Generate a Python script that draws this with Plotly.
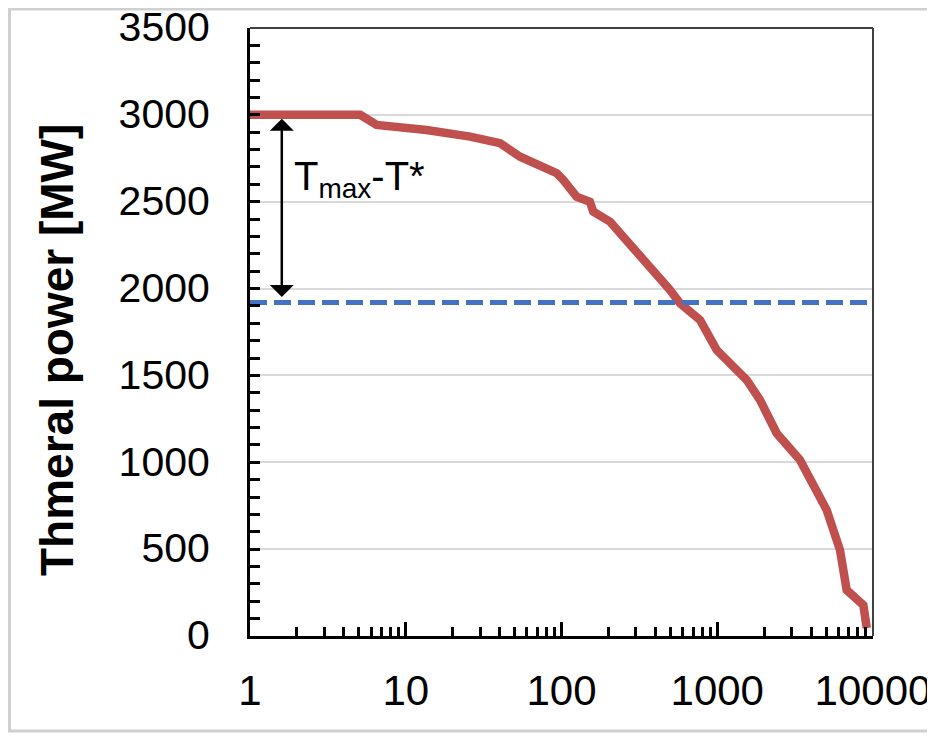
import math
import plotly.graph_objects as go

# ---- data ----
hours = [1, 5.1, 6.5, 13.6, 25.9, 40.3, 54.2, 72.8, 93.2, 102.8, 125, 152, 160,
         205, 249, 319, 388, 497, 577, 738, 775, 991, 1268, 1545, 1880, 2408,
         3397, 4137, 5046, 6138, 6777, 8669, 8892, 9120]
power = [3000, 3000, 2942, 2913, 2875, 2837, 2759, 2712, 2664, 2625, 2529, 2500, 2443,
         2385, 2299, 2203, 2107, 1992, 1915, 1838, 1819, 1647, 1560, 1474, 1359, 1167,
         1013, 879, 725, 495, 265, 178, 63, 46]

threshold = 1920          # T* (dashed line)
t_max = 3000              # Tmax
arrow_hour = 1.6          # x position of the double arrow
x_ticks = [1, 10, 100, 1000, 10000]
x_tick_text = ["1", "10", "100", "1000", "10000"]
y_title = "Thmeral power [MW]"
note_text = "T<sub>max</sub>-T*"

FONT = "Arial, Liberation Sans, sans-serif"

minor_x = [m * d for d in [1, 10, 100, 1000] for m in range(2, 10)]

# page body has an 8px margin: the figure is placed at (8, 8)
PAGE_OFF = 8
PLOT_L, PLOT_R, PLOT_T, PLOT_B = 250, 873, 28, 636   # plot area in page pixels
W, H = 935 - PAGE_OFF, 736 - PAGE_OFF
PW, PH = PLOT_R - PLOT_L, PLOT_B - PLOT_T


def px(page_x):
    return (page_x - PLOT_L) / PW


def py(page_y):
    return (PLOT_B - page_y) / PH


fig = go.Figure()
fig.add_trace(go.Scatter(x=hours, y=power, mode="lines",
                         line=dict(color="#C0504D", width=8.5), hoverinfo="skip"))
fig.add_trace(go.Scatter(x=[x_ticks[0], x_ticks[-1]], y=[threshold, threshold], mode="lines",
                         line=dict(color="#4472C4", width=5, dash="17px,7px"), hoverinfo="skip"))

fig.update_layout(
    width=W, height=H,
    margin=dict(l=PLOT_L - PAGE_OFF, r=935 - PLOT_R, t=PLOT_T - PAGE_OFF, b=736 - PLOT_B,
                autoexpand=False),
    plot_bgcolor="white", paper_bgcolor="white",
    showlegend=False,
    font=dict(family=FONT, color="black"),
)

fig.update_xaxes(
    type="log", range=[0, 4], automargin=False,
    tickmode="array", tickvals=x_ticks, ticktext=x_tick_text,
    ticks="inside", ticklen=14, tickwidth=2.5, tickcolor="black",
    showline=True, linecolor="black", linewidth=3,
    showgrid=False, zeroline=False,
    tickfont=dict(size=42, family=FONT, color="black"),
    ticklabelstandoff=16, ticklabeloverflow="allow",
    minor=dict(tickmode="array", tickvals=minor_x, ticks="inside", ticklen=9,
               tickwidth=2.5, tickcolor="black", showgrid=False),
)
fig.update_yaxes(
    range=[0, 3500], tick0=0, dtick=500, automargin=False,
    ticks="inside", ticklen=10, tickwidth=2.5, tickcolor="black",
    showline=True, linecolor="black", linewidth=3,
    showgrid=True, gridcolor="#D9D9D9", gridwidth=2, zeroline=False,
    tickfont=dict(size=41, family=FONT, color="black"),
    ticklabelstandoff=29, ticklabelshift=-1, ticklabeloverflow="allow",
    minor=dict(dtick=100, ticks="inside", ticklen=10, tickwidth=2.5,
               tickcolor="black", showgrid=False),
)

# top and right frame of the plot area
fig.add_shape(type="line", xref="paper", yref="paper", x0=0, x1=1, y0=1, y1=1,
              line=dict(color="#404040", width=2))
fig.add_shape(type="line", xref="paper", yref="paper", x0=1, x1=1, y0=0, y1=1,
              line=dict(color="#404040", width=2))
# outer light frame of the picture
fig.add_shape(type="rect", xref="paper", yref="paper",
              x0=px(9.5), x1=px(950), y0=py(731), y1=py(9),
              line=dict(color="#D0D0D0", width=3), layer="below")

# y axis title
fig.add_annotation(text=y_title, xref="paper", yref="paper",
                   x=px(57), y=py(350), textangle=-90,
                   showarrow=False, xanchor="center", yanchor="middle",
                   font=dict(size=46, family=FONT, color="black", weight="bold"))

# double arrow
fig.add_annotation(x=math.log10(arrow_hour), y=t_max, ax=math.log10(arrow_hour), ay=threshold,
                   xref="x", yref="y", axref="x", ayref="y", text="",
                   showarrow=True, arrowside="end+start", arrowhead=1, startarrowhead=1,
                   arrowwidth=2.5, arrowsize=1.6, startarrowsize=1.6,
                   standoff=4, startstandoff=4, arrowcolor="black")
fig.add_annotation(x=math.log10(1.85), y=2630, xref="x", yref="y", text=note_text,
                   showarrow=False, xanchor="left", yanchor="middle",
                   font=dict(size=40, family=FONT, color="black"))

fig.write_html("out.html")
